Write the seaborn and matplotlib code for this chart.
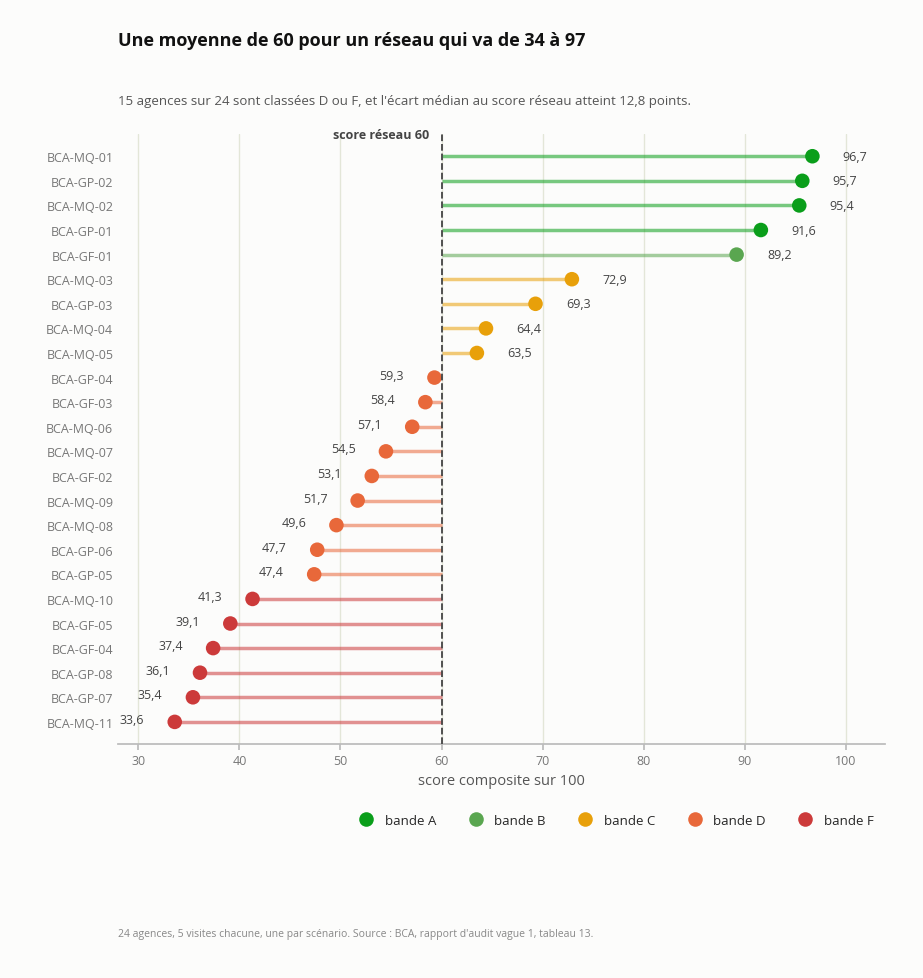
import matplotlib
matplotlib.use("Agg")
import matplotlib.pyplot as plt
import seaborn as sns
import pandas as pd

agences = ["BCA-MQ-01","BCA-GP-02","BCA-MQ-02","BCA-GP-01","BCA-GF-01","BCA-MQ-03","BCA-GP-03","BCA-MQ-04",
           "BCA-MQ-05","BCA-GP-04","BCA-GF-03","BCA-MQ-06","BCA-MQ-07","BCA-GF-02","BCA-MQ-09","BCA-MQ-08",
           "BCA-GP-06","BCA-GP-05","BCA-MQ-10","BCA-GF-05","BCA-GF-04","BCA-GP-08","BCA-GP-07","BCA-MQ-11"]
scores = [96.7,95.7,95.4,91.6,89.2,72.9,69.3,64.4,63.5,59.3,58.4,57.1,54.5,53.1,51.7,49.6,47.7,47.4,41.3,39.1,37.4,36.1,35.4,33.6]
bandes = ["A","A","A","A","B","C","C","C","C","D","D","D","D","D","D","D","D","D","F","F","F","F","F","F"]
bande_noms = ["bande A","bande B","bande C","bande D","bande F"]
couleurs = ["#0a9e1a","#5aa650","#e8a00a","#e8683a","#cc3a3a"]
reseau = 60

sns.set_theme(style="white")
plt.rcParams["font.family"] = ["Open Sans", "DejaVu Sans"]
df = pd.DataFrame({"agence": agences, "score": scores, "bande": ["bande " + b for b in bandes]})
df["y"] = range(len(df))
pal = dict(zip(bande_noms, couleurs))

fig = plt.figure(figsize=(9.23, 9.79), dpi=100, facecolor="#fcfcfb")
ax = fig.add_axes([0.128, 0.239, 0.831, 0.623], facecolor="#fcfcfb")

for _, r in df.iterrows():
    ax.hlines(r["y"], reseau, r["score"], color=pal[r["bande"]], alpha=0.55, lw=2.5, zorder=2)
sns.scatterplot(data=df, x="score", y="y", hue="bande", hue_order=bande_noms, palette=pal,
                s=110, edgecolor="none", ax=ax, zorder=3, legend=True)
for _, r in df.iterrows():
    txt = f"{r['score']:.1f}".replace(".", ",")
    if r["score"] >= reseau:
        ax.text(r["score"] + 3, r["y"], txt, ha="left", va="center", fontsize=9, color="#444")
    else:
        ax.text(r["score"] - 3, r["y"] - 0.1, txt, ha="right", va="center", fontsize=9, color="#444")

ax.axvline(reseau, color="#444", ls="--", lw=1.3, zorder=4)
ax.text(reseau - 1.2, -0.9, "score réseau 60", ha="right", va="center", fontsize=9, fontweight="bold", color="#444")

ax.set_xlim(28.0, 103.9)
ax.set_ylim(23.9, -0.9)
ax.set_yticks(df["y"])
ax.set_yticklabels(agences, fontsize=9, color="#777")
ax.set_xticks(range(30, 101, 10))
ax.tick_params(axis="x", labelsize=9, labelcolor="#777", length=4, color="#bbb", bottom=True)
ax.tick_params(axis="y", length=0)
ax.grid(axis="x", color="#e3e6d8", lw=1)
ax.grid(axis="y", visible=False)
for s in ["top", "right", "left"]:
    ax.spines[s].set_visible(False)
ax.spines["bottom"].set_color("#bbb")
ax.set_xlabel("score composite sur 100", fontsize=10.5, color="#555")
ax.set_ylabel("")

h, l = ax.get_legend_handles_labels()
ax.legend(h, l, ncol=5, loc="upper right", bbox_to_anchor=(1.0, -0.095), frameon=False,
          fontsize=9.5, handletextpad=0.4, columnspacing=2.0, markerscale=1.0)

fig.text(0.128, 0.953, "Une moyenne de 60 pour un réseau qui va de 34 à 97", fontsize=13, fontweight="bold", color="#111")
fig.text(0.128, 0.893, "15 agences sur 24 sont classées D ou F, et l'écart médian au score réseau atteint 12,8 points.",
         fontsize=9.5, color="#555")
fig.text(0.128, 0.043, "24 agences, 5 visites chacune, une par scénario. Source : BCA, rapport d'audit vague 1, tableau 13.",
         fontsize=7.5, color="#888")
fig.savefig("out.png", dpi=100, facecolor=fig.get_facecolor())
